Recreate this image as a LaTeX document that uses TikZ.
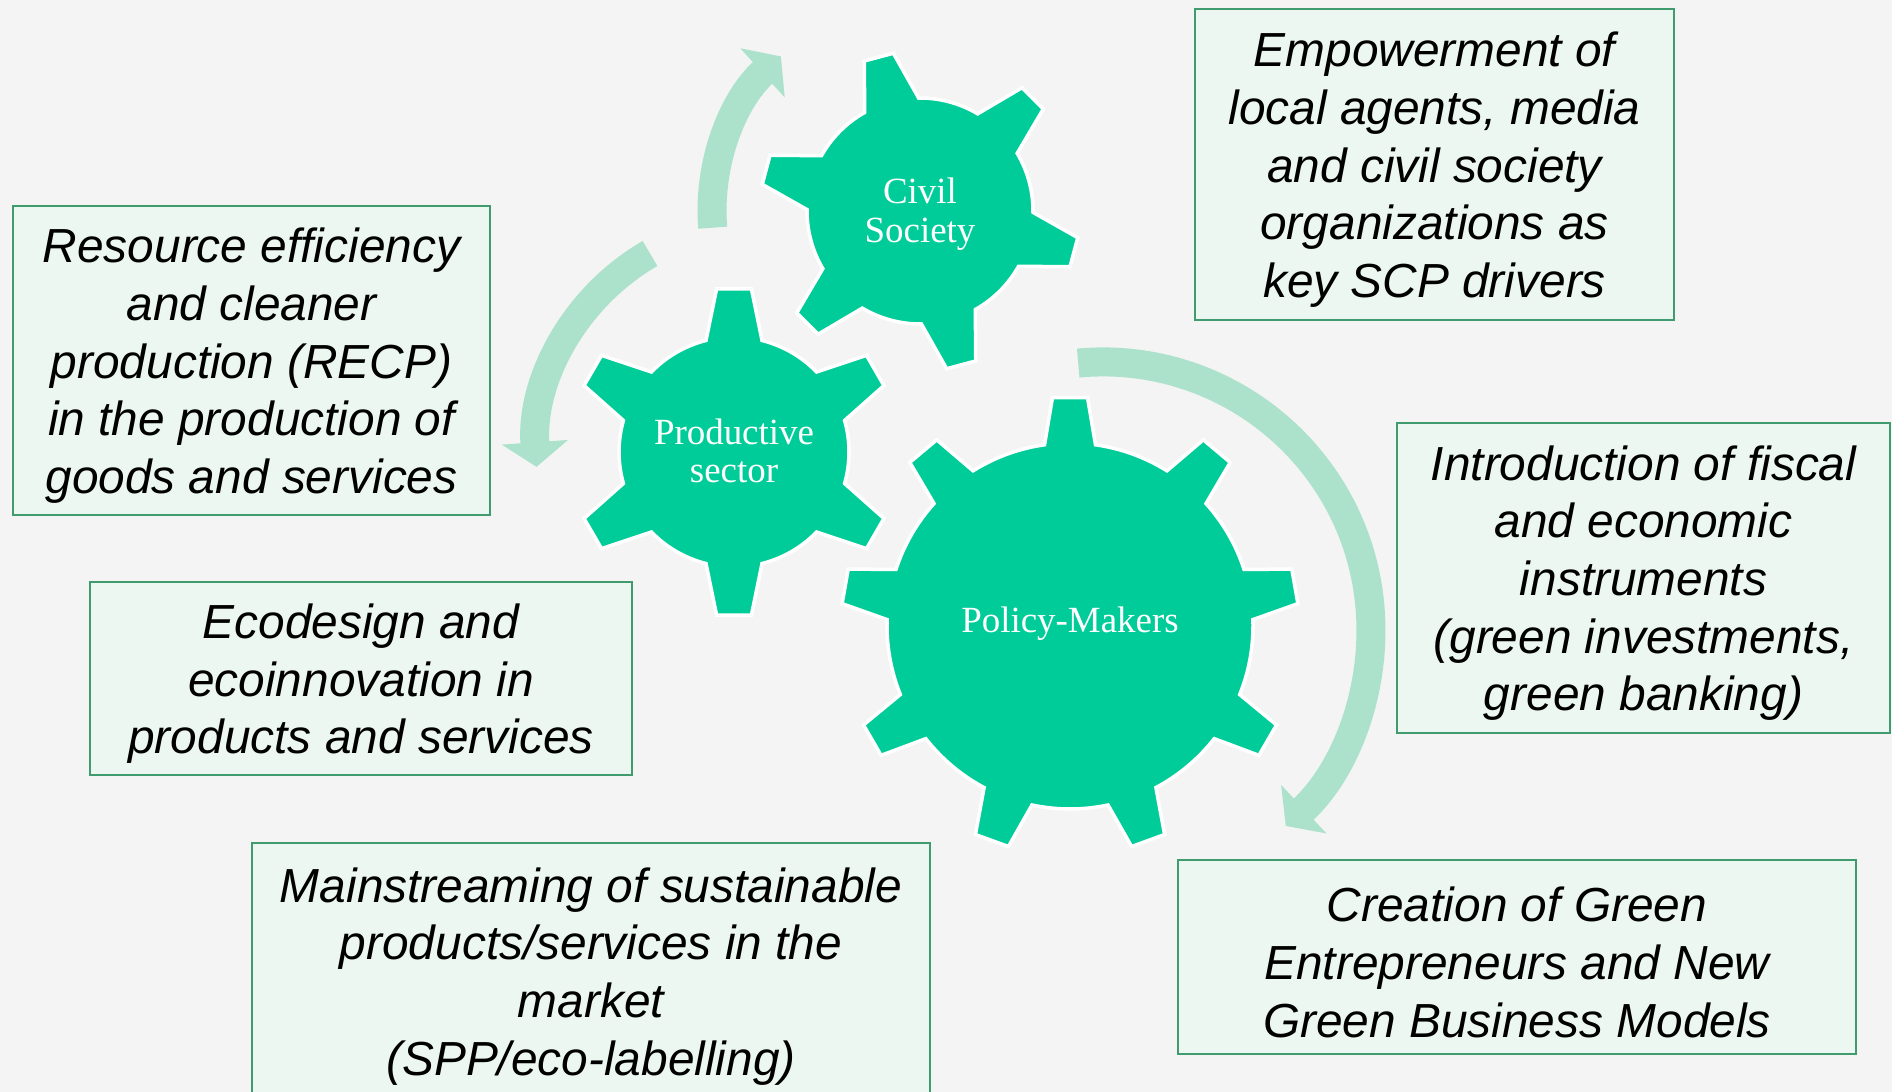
\documentclass[tikz,border=0pt]{standalone}
\usepackage{fontspec}
\newfontfamily\boxfont{Liberation Sans}
\newfontfamily\cogfont{Liberation Serif}
\usetikzlibrary{arrows.meta}

\definecolor{paper}{RGB}{243,244,243}
\definecolor{cogcol}{RGB}{0,204,153}
\definecolor{flowcol}{RGB}{172,226,204}
\definecolor{boxfill}{RGB}{236,247,241}
\definecolor{boxline}{RGB}{64,156,110}

\tikzset{
  cog/.style={fill=cogcol,draw=white,line width=1pt},
  coglabel/.style={text=white,align=center,font=\cogfont\fontsize{10.5}{11}\selectfont},
  flow/.style={draw=flowcol,line width=8.25pt,-{Triangle[width=18.5pt,length=7pt]}},
  card/.style={draw=boxline,fill=boxfill,line width=0.7pt,inner sep=0pt},
  cardtext/.style={yshift=-1.5pt,inner sep=0pt,align=center,
    font=\boxfont\itshape\fontsize{13.6}{16.4}\selectfont}
}

\newcommand{\cog}[6]{%
  \path[cog] ({#4-#5}:#2)
    \foreach \k in {1,...,#1}{
      -- ({#4+(\k-1)*360/#1-#6}:#3) -- ({#4+(\k-1)*360/#1+#6}:#3)
      -- ({#4+(\k-1)*360/#1+#5}:#2)
      arc[start angle={#4+(\k-1)*360/#1+#5},end angle={#4+\k*360/#1-#5},radius=#2]
    } -- cycle;}

\begin{document}
\begin{tikzpicture}[x=0.01cm,y=0.01cm]
\useasboundingbox (0,0) rectangle (1892,-1092);
\fill[paper] (0,0) rectangle (1892,-1092);

\coordinate (civilhub) at (920,-211);
\coordinate (prodhub) at (734,-452);
\coordinate (policyhub) at (1070,-626);
\coordinate (upstart) at (712.7,-227.7);
\coordinate (leftstart) at (650,-253.5);
\coordinate (rightstart) at (1078.2,-363.1);

\draw[flow] (upstart) arc[start angle=184.6,end angle=132,radius=208];
\draw[flow] (leftstart) arc[start angle=120,end angle=184,radius=228];
\draw[flow] (rightstart) arc[start angle=95.3,end angle=-47,radius=268];

\begin{scope}[shift={(civilhub)}] \cog{6}{113}{160}{105}{14.3}{5.4} \end{scope}
\begin{scope}[shift={(prodhub)}] \cog{6}{115}{164}{90}{14.1}{6.1} \end{scope}
\begin{scope}[shift={(policyhub)}] \cog{9}{183}{229}{90}{8}{4.4} \end{scope}

\node[coglabel] (civil) at (920,-214) {Civil\\Society};
\node[coglabel] (productive) at (734,-451) {Productive\\sector};
\node[coglabel] (policy) at (1070,-624) {Policy-Makers};

\node[card,minimum width=4.77cm,minimum height=3.09cm] (recp) at (251.5,-360.5) {};
\node[card,minimum width=4.79cm,minimum height=3.11cm] (empower) at (1434.5,-164.5) {};
\node[card,minimum width=4.93cm,minimum height=3.10cm] (fiscal) at (1643.5,-578) {};
\node[card,minimum width=5.42cm,minimum height=1.93cm] (ecodesign) at (361,-678.5) {};
\node[card,minimum width=6.78cm,minimum height=2.56cm] (mainstream) at (591,-971) {};
\node[card,minimum width=6.78cm,minimum height=1.94cm] (creation) at (1517,-957) {};

\node[cardtext] (recptext) at (recp)
  {Resource efficiency\\and cleaner\\production (RECP)\\in the production of\\goods and services};
\node[cardtext] (empowertext) at (empower)
  {Empowerment of\\local agents, media\\and civil society\\organizations as\\key SCP drivers};
\node[cardtext] (fiscaltext) at (fiscal)
  {Introduction of fiscal\\and economic\\instruments\\(green investments,\\green banking)};
\node[cardtext] (ecodesigntext) at (ecodesign)
  {Ecodesign and\\ecoinnovation in\\products and services};
\node[cardtext] (mainstreamtext) at (mainstream)
  {Mainstreaming of sustainable\\products/services in the\\market\\(SPP/eco-labelling)};
\node[cardtext] (creationtext) at (creation)
  {Creation of Green\\Entrepreneurs and New\\Green Business Models};
\end{tikzpicture}
\end{document}
